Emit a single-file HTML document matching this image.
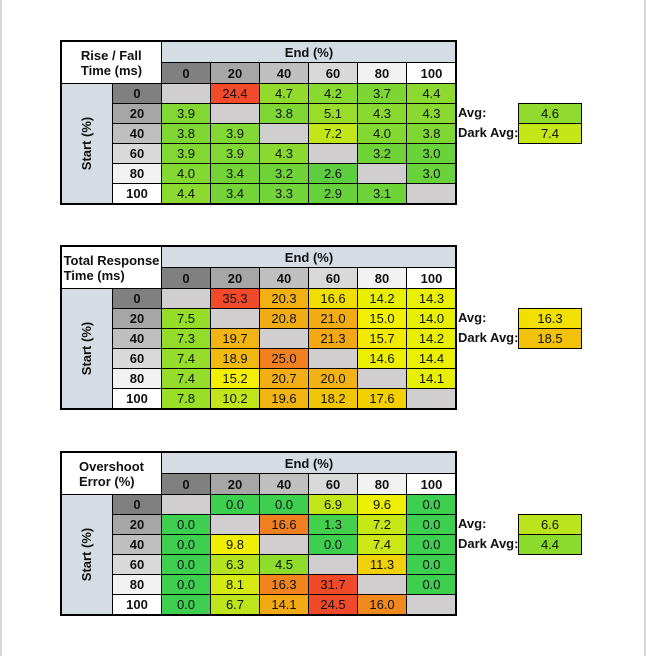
<!DOCTYPE html>
<html><head><meta charset="utf-8">
<style>
body{margin:0;width:646px;height:656px;background:#fff;position:relative;overflow:hidden;font-family:"Liberation Sans",sans-serif;}
.c{position:absolute;box-sizing:border-box;border:1px solid #000;display:flex;align-items:center;justify-content:center;font-size:13px;color:#111;}
.b{font-weight:bold;}
.t{position:absolute;font-size:13px;font-weight:bold;color:#111;}
</style></head>
<body>
<div style="position:absolute;left:0;top:0;width:2px;height:656px;background:#d8d8d8"></div>
<div style="position:absolute;right:0;top:0;width:2px;height:656px;background:#d8d8d8"></div>
<script>
const levels = ["0","20","40","60","80","100"];
const riseTitle = ["Rise / Fall","Time (ms)"];
const riseValues = [
 [null,24.4,4.7,4.2,3.7,4.4],
 [3.9,null,3.8,5.1,4.3,4.3],
 [3.8,3.9,null,7.2,4.0,3.8],
 [3.9,3.9,4.3,null,3.2,3.0],
 [4.0,3.4,3.2,2.6,null,3.0],
 [4.4,3.4,3.3,2.9,3.1,null]];
const riseAvg = [4.6,7.4];
const respTitle = ["Total Response","Time (ms)"];
const respValues = [
 [null,35.3,20.3,16.6,14.2,14.3],
 [7.5,null,20.8,21.0,15.0,14.0],
 [7.3,19.7,null,21.3,15.7,14.2],
 [7.4,18.9,25.0,null,14.6,14.4],
 [7.4,15.2,20.7,20.0,null,14.1],
 [7.8,10.2,19.6,18.2,17.6,null]];
const respAvg = [16.3,18.5];
const overTitle = ["Overshoot","Error (%)"];
const overValues = [
 [null,0.0,0.0,6.9,9.6,0.0],
 [0.0,null,16.6,1.3,7.2,0.0],
 [0.0,9.8,null,0.0,7.4,0.0],
 [0.0,6.3,4.5,null,11.3,0.0],
 [0.0,8.1,16.3,31.7,null,0.0],
 [0.0,6.7,14.1,24.5,16.0,null]];
const overAvg = [6.6,4.4];

const riseStops=[[2,"#48c848"],[3,"#6ad23a"],[4,"#84d832"],[7.2,"#c2e61a"],[10,"#f0f000"],[15,"#f2b010"],[24,"#f24a2a"]];
const respStops=[[7,"#8edc2c"],[10,"#bfe31c"],[14,"#e6f000"],[15.2,"#f2f000"],[17.6,"#f2d000"],[19,"#f2b812"],[21,"#f2ac14"],[25,"#f08020"],[35,"#f04a2a"]];
const overStops=[[0,"#3ecf50"],[1.3,"#44cf4c"],[4.5,"#8edc2c"],[7,"#c4e619"],[9.7,"#f0f000"],[11.3,"#f2d00a"],[14,"#f2ac14"],[16.5,"#f08020"],[24,"#f04a2a"]];
const hdrGray=["#808080","#a6a6a6","#bfbfbf","#d9d9d9","#f2f2f2","#ffffff"];

function hex(h){return [1,3,5].map(i=>parseInt(h.substr(i,2),16));}
function colorFor(v,stops){
  if(v<=stops[0][0])return stops[0][1];
  for(let i=1;i<stops.length;i++){
    if(v<=stops[i][0]){
      const a=stops[i-1],b=stops[i],t=(v-a[0])/(b[0]-a[0]);
      const ca=hex(a[1]),cb=hex(b[1]);
      return "rgb("+ca.map((x,k)=>Math.round(x+(cb[k]-x)*t)).join(",")+")";
    }
  }
  return stops[stops.length-1][1];
}
const colX=[61,112,161,210,259,308,357,406,456];
function cell(x,y,w,h,txt,bg,cls,name){
  const d=document.createElement("div");
  d.className="c"+(cls?" "+cls:"");
  d.style.left=x+"px";d.style.top=y+"px";d.style.width=(w+1)+"px";d.style.height=(h+1)+"px";
  d.style.background=bg;
  d.innerHTML=txt;
  
  
  document.body.appendChild(d);return d;
}
function table(T,title,vals,stops,avg,key){
  cell(61,T,100,42,title[0]+"<br>"+title[1],"#fff","b",key+"-title");
  cell(161,T,295,21,"End (%)","#d6dce4","b",key+"-end-axis-title");
  const s=cell(61,T+42,51,120,"<span style='transform:rotate(-90deg);display:inline-block;white-space:nowrap'>Start (%)</span>","#d6dce4","b",key+"-start-axis-title");
  for(let j=0;j<6;j++) cell(colX[j+2],T+21,colX[j+3]-colX[j+2],21,levels[j],hdrGray[j],"b",key+"-end-label-"+levels[j]);
  for(let i=0;i<6;i++){
    const y=T+42+20*i;
    cell(112,y,49,20,levels[i],hdrGray[i],"b",key+"-start-label-"+levels[i]);
    for(let j=0;j<6;j++){
      const v=vals[i][j];
      cell(colX[j+2],y,colX[j+3]-colX[j+2],20,v==null?"":v.toFixed(1),v==null?"#d0cece":colorFor(v,stops),"",key+"-cell-"+levels[i]+"-"+levels[j]);
    }
  }
  const o=document.createElement("div");
  o.style.cssText="position:absolute;left:60px;top:"+(T-1)+"px;width:397px;height:165px;border:2px solid #000;box-sizing:border-box;pointer-events:none";
  
  
  document.body.appendChild(o);
  ["Avg:","Dark Avg:"].forEach((lab,k)=>{
    const t=document.createElement("div");t.className="t";
    t.style.left="458px";t.style.top=(T+64+20*k)+"px";t.textContent=lab;
    
    
    document.body.appendChild(t);
    cell(518,T+62+20*k,63,20,avg[k].toFixed(1),colorFor(avg[k],stops),"",key+(k?"-dark-avg-value":"-avg-value"));
  });
}
table(41,riseTitle,riseValues,riseStops,riseAvg,"rise-fall");
table(246,respTitle,respValues,respStops,respAvg,"total-response");
table(452,overTitle,overValues,overStops,overAvg,"overshoot");
</script>
</body></html>
